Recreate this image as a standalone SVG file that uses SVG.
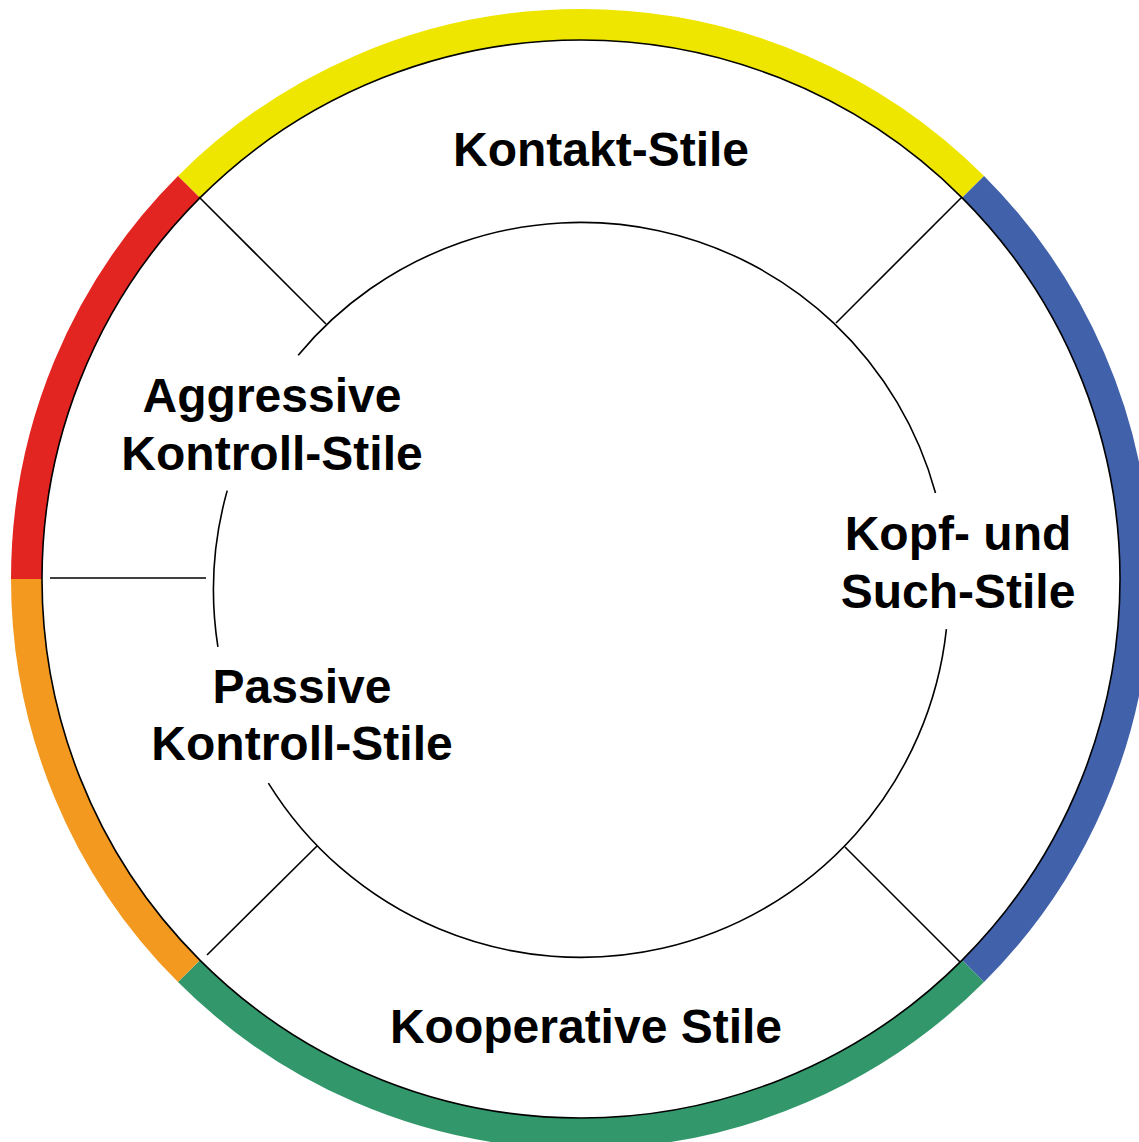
<svg xmlns="http://www.w3.org/2000/svg" width="1139" height="1142" viewBox="0 0 1139 1142">
<style>
.seg{fill:none;stroke-width:31;stroke-linecap:butt}
.ln{fill:none;stroke:#000;stroke-width:1.6}
.lbl{font-family:"Liberation Sans",Arial,Helvetica,sans-serif;font-weight:bold;font-size:48px;fill:#000;text-anchor:middle}
</style>
<rect width="1139" height="1142" fill="#fff"/>
<g id="ring">
<path id="seg-kontakt" class="seg" stroke="#EFE600" d="M188.91,186.91 A554.5,554.5 0 0 1 973.09,186.91"/>
<path id="seg-kopf" class="seg" stroke="#4161AB" d="M973.09,186.91 A554.5,554.5 0 0 1 973.09,971.09"/>
<path id="seg-kooperativ" class="seg" stroke="#32976A" d="M973.09,971.09 A554.5,554.5 0 0 1 188.91,971.09"/>
<path id="seg-passiv" class="seg" stroke="#F3991F" d="M188.91,971.09 A554.5,554.5 0 0 1 26.5,579"/>
<path id="seg-aggressiv" class="seg" stroke="#E32522" d="M26.5,579 A554.5,554.5 0 0 1 188.91,186.91"/>
<circle class="ln" cx="581" cy="579" r="539"/>
</g>
<g id="inner-circle">
<path class="ln" d="M298.2,355.2 A367.5,367.5 0 0 1 935.5,493"/>
<path class="ln" d="M946.4,629.1 A367.5,367.5 0 0 1 268.4,783.1"/>
<path class="ln" d="M217.9,646.9 A367.5,367.5 0 0 1 227.2,490.6"/>
</g>
<g id="connectors">
<line class="ln" x1="199" y1="197" x2="326" y2="324"/>
<line class="ln" x1="962" y1="197" x2="836" y2="323"/>
<line class="ln" x1="50" y1="578" x2="206" y2="578"/>
<line class="ln" x1="207" y1="955" x2="317" y2="846"/>
<line class="ln" x1="845" y1="847" x2="960" y2="962"/>
</g>
<g id="node-kontakt"><text class="lbl" x="601" y="166">Kontakt-Stile</text></g>
<g id="node-kopf"><text class="lbl" x="958" y="550">Kopf- und</text><text class="lbl" x="958" y="608">Such-Stile</text></g>
<g id="node-aggressiv"><text class="lbl" x="272" y="412">Aggressive</text><text class="lbl" x="272" y="470">Kontroll-Stile</text></g>
<g id="node-passiv"><text class="lbl" x="302" y="703">Passive</text><text class="lbl" x="302" y="760">Kontroll-Stile</text></g>
<g id="node-kooperativ"><text class="lbl" x="586" y="1043">Kooperative Stile</text></g>
</svg>
